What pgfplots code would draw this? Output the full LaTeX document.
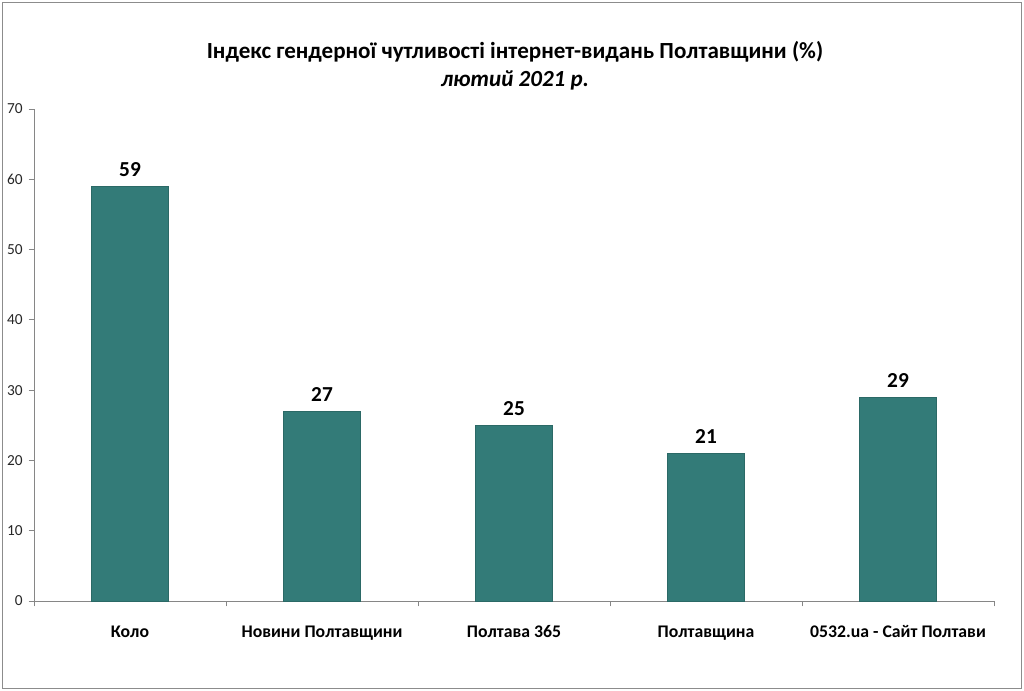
\documentclass[border=0pt]{standalone}
\usepackage{fontspec}
\setmainfont{Carlito}
\usepackage{pgfplots}
\pgfplotsset{compat=1.18}
\definecolor{barteal}{RGB}{51,123,120}
\definecolor{axgray}{RGB}{134,134,134}
\definecolor{framegray}{RGB}{140,140,140}
\begin{document}
\begin{tikzpicture}[x=0.75pt,y=0.75pt]
\useasboundingbox (0,0) rectangle (1024,691);
\draw[framegray, line width=0.8pt] (2.5,2.5) rectangle (1021.5,688.5);
\node[font=\fontsize{17.3}{20}\selectfont\bfseries] at (515,639) {Індекс гендерної чутливості інтернет-видань Полтавщини (\%)};
\node[font=\fontsize{17.3}{20}\selectfont\bfseries\itshape] at (515,611) {лютий 2021 р.};
\begin{axis}[
  at={(25.5pt,67.5pt)}, anchor=south west,
  scale only axis,
  width=720pt, height=369pt,
  xmin=-0.5, xmax=4.5,
  ymin=0, ymax=70,
  ytick={0,10,...,70},
  xtick={-0.5,0.5,1.5,2.5,3.5,4.5},
  xticklabels={},
  extra x ticks={0,1,2,3,4},
  extra x tick labels={Коло, Новини Полтавщини, Полтава 365, Полтавщина, 0532.ua - Сайт Полтави},
  extra x tick style={major tick length=0pt, tick style={draw=none},
    ticklabel style={font=\fontsize{13.3}{16}\selectfont\bfseries, text height=9.5pt, text depth=2.5pt, yshift=-14pt}},
  axis x line*=bottom, axis y line*=left,
  axis line style={axgray, line width=0.6pt, -},
  tick style={axgray, line width=0.6pt},
  major tick length=4pt,
  tick align=outside,
  yticklabel style={font=\fontsize{11.5}{13}\selectfont, text=black!85, xshift=-1pt},
  /pgf/number format/assume math mode=true,
  ybar, bar width=57.75pt,
  nodes near coords,
  every node near coord/.append style={font=\fontsize{16}{18}\selectfont\bfseries, yshift=3.5pt},
  clip=false,
]
\addplot[fill=barteal, draw=barteal!85!black, line width=0.5pt] coordinates {(0,59) (1,27) (2,25) (3,21) (4,29)};
\end{axis}
\end{tikzpicture}
\end{document}
